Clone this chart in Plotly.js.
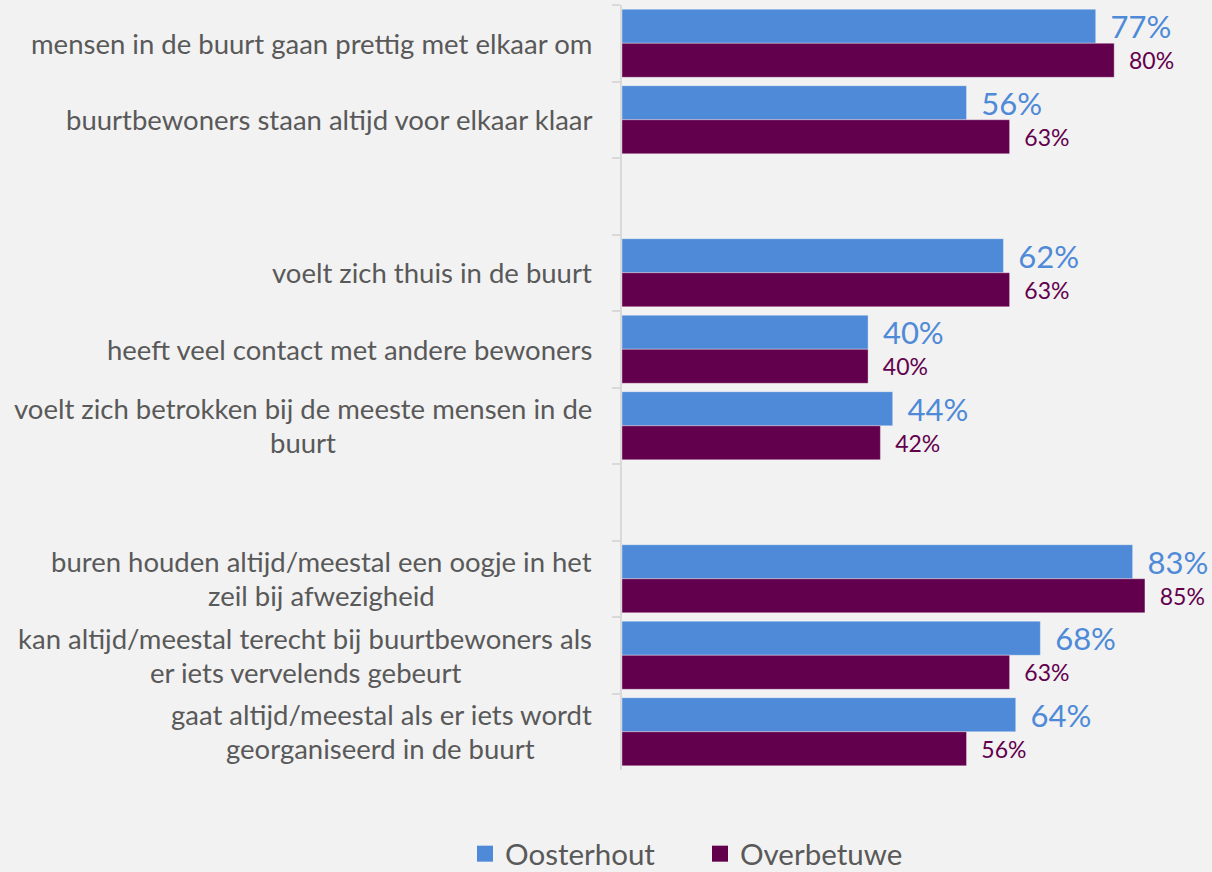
<!DOCTYPE html>
<html>
<head>
<meta charset="utf-8">
<script src="https://cdn.plot.ly/plotly-3.0.1.min.js"></script>
<style>
    html, body { margin: 0; padding: 0; background: #f2f2f2; }
    #chart { width: 1212px; height: 872px; }
</style>
</head>
<body>
<div id="chart"></div>
<script>
// Categories top to bottom (empty strings are the spacer rows)
const categories = [
    'mensen in de buurt gaan prettig met elkaar om',
    'buurtbewoners staan altijd voor elkaar klaar',
    '',
    'voelt zich thuis in de buurt',
    'heeft veel contact met andere bewoners',
    'voelt zich betrokken bij de meeste mensen in de<br>buurt',
    '',
    'buren houden altijd/meestal een oogje in het<br>zeil bij afwezigheid',
    'kan altijd/meestal terecht bij buurtbewoners als<br>er iets vervelends gebeurt',
    'gaat altijd/meestal als er iets wordt<br>georganiseerd in de buurt'
];
const oosterhout = [77, 56, null, 62, 40, 44, null, 83, 68, 64];
const overbetuwe = [80, 63, null, 63, 40, 42, null, 85, 63, 56];
const seriesNames = ['Oosterhout', 'Overbetuwe'];

const BLUE = '#4f8ad8';
const PURPLE = '#63004d';
const GREY = '#595959';
const FONT = 'Lato, "Open Sans", sans-serif';
const LABEL_SIZE = 27.5;
const LINE_GAP = 34;

// unique ids for the category axis (spacer rows need distinct keys)
const catIds = categories.map((c, i) => c === '' ? 'leeg' + i : c);

function barTrace(name, values, color, size, pad) {
    return {
        type: 'bar',
        orientation: 'h',
        name: name,
        legendgroup: name,
        showlegend: false,
        y: catIds,
        x: values,
        marker: { color: color, line: { color: 'rgba(255,255,255,0.35)', width: 1 } },
        texttemplate: pad + '%{x}%',
        textposition: 'outside',
        textfont: { family: FONT, size: size, color: color },
        constraintext: 'none',
        cliponaxis: false,
        hoverinfo: 'x+name'
    };
}

// legend-only entries, so the legend squares can be larger than the bar default
function legendTrace(name, color) {
    return {
        type: 'scatter',
        mode: 'markers',
        name: name,
        legendgroup: name,
        x: [null],
        y: [null],
        marker: { symbol: 'square', size: 17, color: color },
        hoverinfo: 'skip'
    };
}

const traces = [
    barTrace(seriesNames[0], oosterhout, BLUE, 31, '\u00a0\u2009'),
    barTrace(seriesNames[1], overbetuwe, PURPLE, 23, '\u00a0\u00a0'),
    legendTrace(seriesNames[0], BLUE),
    legendTrace(seriesNames[1], PURPLE)
];

// Measure text so multi-line labels can be centred within a right-aligned block
const ctx = document.createElement('canvas').getContext('2d');
ctx.font = LABEL_SIZE + 'px Lato';
function textWidth(s) { return ctx.measureText(s).width; }

const annotations = [];
categories.forEach((label, i) => {
    if (!label) return;
    const lines = label.split('<br>');
    const maxW = Math.max(...lines.map(textWidth));
    lines.forEach((line, j) => {
        annotations.push({
            xref: 'paper', yref: 'y',
            x: -0.0475, y: i,
            xanchor: 'right', yanchor: 'middle',
            xshift: -(maxW - textWidth(line)) / 2,
            yshift: ((lines.length - 1) / 2 - j) * LINE_GAP,
            text: line,
            showarrow: false,
            font: { family: FONT, size: LABEL_SIZE, color: GREY }
        });
    });
});

const layout = {
    width: 1212,
    height: 872,
    margin: { l: 622, r: 0, t: 5, b: 102 },
    paper_bgcolor: '#f2f2f2',
    plot_bgcolor: '#f2f2f2',
    barmode: 'group',
    bargap: 0.11,
    bargroupgap: 0,
    xaxis: {
        range: [0, 95.9],
        showgrid: false,
        zeroline: false,
        showticklabels: false,
        showline: false,
        ticks: ''
    },
    yaxis: {
        type: 'category',
        autorange: 'reversed',
        showgrid: false,
        showticklabels: false,
        showline: true,
        linecolor: '#d9d9d9',
        linewidth: 2,
        ticks: 'outside',
        tickson: 'boundaries',
        ticklen: 8,
        tickcolor: '#d9d9d9',
        tickwidth: 2
    },
    showlegend: true,
    legend: {
        orientation: 'h',
        xref: 'container',
        yref: 'container',
        x: 465 / 1212,
        xanchor: 'left',
        y: 1 - 854 / 872,
        yanchor: 'middle',
        entrywidth: 190,
        font: { family: FONT, size: 29.5, color: GREY },
        itemsizing: 'trace'
    },
    annotations: annotations
};

Plotly.newPlot('chart', traces, layout, { displayModeBar: false });
</script>
</body>
</html>
